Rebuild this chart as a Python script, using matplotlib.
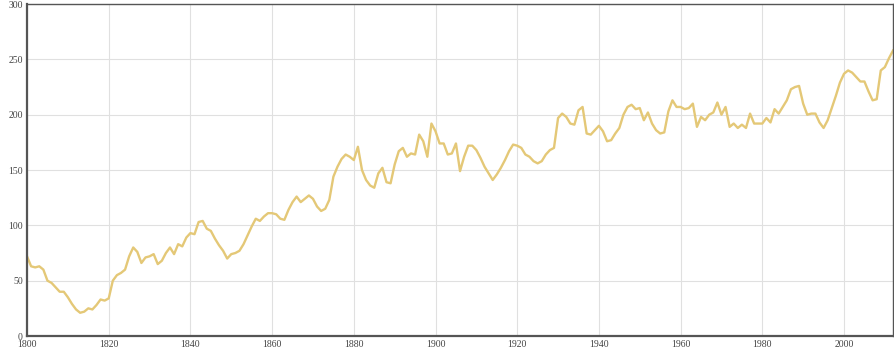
import matplotlib
matplotlib.use("Agg")
import matplotlib.pyplot as plt

# yearly values, 1800..2012
years = list(range(1800, 2013))
values = [
    72, 63, 62, 63, 60, 50, 48, 44, 40, 40,          # 1800s
    35, 29, 24, 21, 22, 25, 24, 28, 33, 32,          # 1810s
    34, 50, 55, 57, 60, 72, 80, 76, 66, 71,          # 1820s
    72, 74, 65, 68, 75, 80, 74, 83, 81, 89,          # 1830s
    93, 92, 103, 104, 97, 95, 88, 82, 77, 70,        # 1840s
    74, 75, 77, 83, 91, 99, 106, 104, 108, 111,      # 1850s
    111, 110, 106, 105, 114, 121, 126, 121, 124, 127,  # 1860s
    124, 117, 113, 115, 123, 144, 153, 160, 164, 162,  # 1870s
    159, 171, 150, 141, 136, 134, 147, 152, 139, 138,  # 1880s
    155, 167, 170, 162, 165, 164, 182, 176, 162, 192,  # 1890s
    185, 174, 174, 164, 165, 174, 149, 162, 172, 172,  # 1900s
    168, 161, 153, 147, 141, 146, 152, 159, 167, 173,  # 1910s
    172, 170, 164, 162, 158, 156, 158, 164, 168, 170,  # 1920s
    197, 201, 198, 192, 191, 204, 207, 183, 182, 186,  # 1930s
    190, 185, 176, 177, 183, 188, 200, 207, 209, 205,  # 1940s
    206, 195, 202, 192, 186, 183, 184, 203, 213, 207,  # 1950s
    207, 205, 206, 210, 189, 198, 195, 200, 202, 211,  # 1960s
    200, 207, 189, 192, 188, 191, 188, 201, 192, 192,  # 1970s
    192, 197, 193, 205, 201, 207, 213, 223, 225, 226,  # 1980s
    210, 200, 201, 201, 193, 188, 195, 206, 217, 229,  # 1990s
    237, 240, 238, 234, 230, 230, 221, 213, 214, 240,  # 2000s
    243, 251, 258,                                     # 2010s
]
x_ticks = list(range(1800, 2001, 20))
y_ticks = list(range(0, 301, 50))

fig = plt.figure(figsize=(8.95, 3.64), dpi=100)
ax = fig.add_axes([0.0302, 0.0769, 0.9676, 0.912])

ax.plot(years, values, color="#e4c877", linewidth=1.7, solid_joinstyle="round")

ax.set_xlim(1800, 2012)
ax.set_ylim(0, 300)
ax.set_xticks(x_ticks)
ax.set_yticks(y_ticks)
ax.grid(color="#e0e0e0", linewidth=0.8)
ax.set_axisbelow(True)

for side in ["left", "bottom"]:
    ax.spines[side].set_color("#555555")
    ax.spines[side].set_linewidth(1.6)
for side in ["top", "right"]:
    ax.spines[side].set_color("#555555")
    ax.spines[side].set_linewidth(1.0)

ax.tick_params(length=0, labelsize=7, colors="#444444", pad=3)
for lab in ax.get_xticklabels() + ax.get_yticklabels():
    lab.set_fontfamily("Liberation Serif")

fig.savefig("out.png", dpi=100, facecolor="white")
